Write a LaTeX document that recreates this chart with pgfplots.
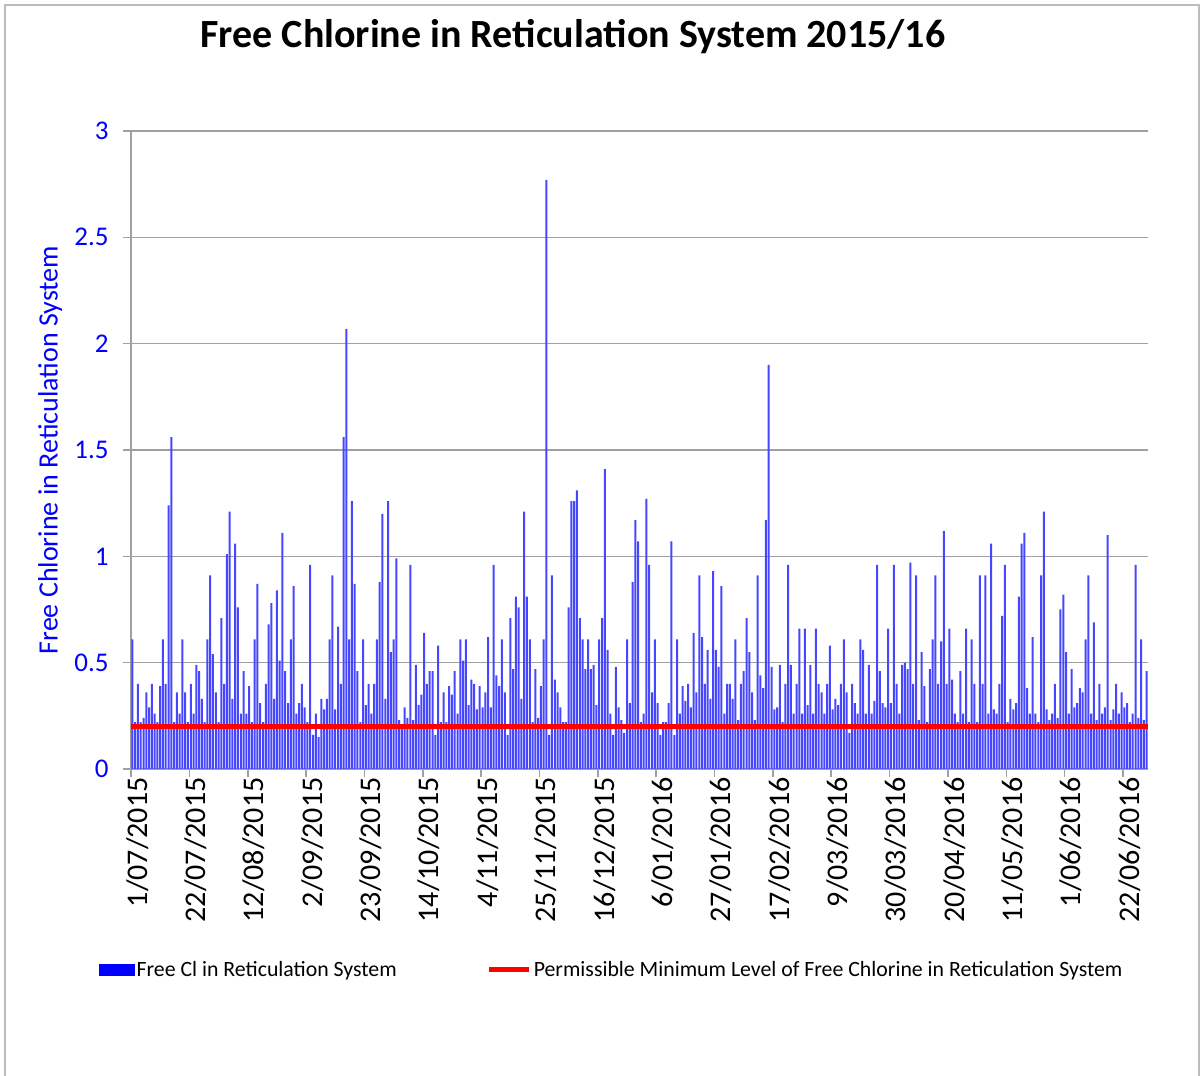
\documentclass[border=0pt]{standalone}
\usepackage{pgfplots}
\pgfplotsset{compat=1.18}
\usepackage{fontspec}
\setmainfont{Carlito}
\definecolor{barblue}{RGB}{70,70,255}
\definecolor{axgray}{RGB}{160,160,160}
\begin{document}
\begin{tikzpicture}
\useasboundingbox (0pt,0pt) rectangle (601.5pt,537.5pt);
\draw[axgray!70, line width=0.6pt] (2.5pt,-5pt) -- (2.5pt,535pt) -- (599.5pt,535pt) -- (599.5pt,-5pt);
\node[font=\fontsize{20}{24}\selectfont\bfseries] at (286.5pt,519pt) {Free Chlorine in Reticulation System 2015/16};
\begin{axis}[
  at={(65.5pt,153pt)}, anchor=south west,
  scale only axis, width=508.5pt, height=319pt,
  xmin=0, xmax=366, ymin=0, ymax=3,
  axis x line*=bottom, axis y line*=left,
  axis line style={axgray, line width=1pt},
  tick align=outside, major tick length=4pt,
  tick style={axgray, line width=0.8pt},
  ytick={0,0.5,1,1.5,2,2.5,3},
  yticklabels={0,0.5,1,1.5,2,2.5,3},
  ymajorgrids, grid style={axgray, line width=0.75pt},
  xtick={0,21,42,63,84,105,126,147,168,189,210,231,252,273,294,315,336,357},
  xticklabels={1/07/2015,22/07/2015,12/08/2015,2/09/2015,23/09/2015,14/10/2015,4/11/2015,25/11/2015,16/12/2015,6/01/2016,27/01/2016,17/02/2016,9/03/2016,30/03/2016,20/04/2016,11/05/2016,1/06/2016,22/06/2016},
  xticklabel style={rotate=90, anchor=east, font=\fontsize{15}{18}\selectfont, text=black, inner sep=0pt, yshift=-3.2pt},
  yticklabel style={font=\fontsize{13.5}{16}\selectfont, text=blue, inner sep=0pt, xshift=-7pt},
  ylabel={Free Chlorine in Reticulation System},
  ylabel style={at={(axis description cs:-0.0796,0.5)}, anchor=center, rotate=0, font=\fontsize{14}{17}\selectfont, text=blue},
  legend style={at={(0.4725,-0.315)}, anchor=center, draw=none, fill=none, legend columns=2,
    font=\fontsize{10.9}{13}\selectfont, /tikz/every even column/.append style={column sep=44pt},
    nodes={inner sep=1pt}},
]
\addplot[ybar, bar width=1.0pt, bar shift=0.7pt, fill=barblue, draw=none,
  legend image code/.code={\fill[blue] (-1pt,-3pt) rectangle (17pt,3pt);}]
coordinates {
(0,0.61) (1,0.22) (2,0.40) (3,0.22) (4,0.24) (5,0.36) (6,0.29) (7,0.40) (8,0.26) (9,0.22)
(10,0.39) (11,0.61) (12,0.40) (13,1.24) (14,1.56) (15,0.22) (16,0.36) (17,0.26) (18,0.61) (19,0.36)
(20,0.22) (21,0.40) (22,0.26) (23,0.49) (24,0.46) (25,0.33) (26,0.22) (27,0.61) (28,0.91) (29,0.54)
(30,0.36) (31,0.22) (32,0.71) (33,0.40) (34,1.01) (35,1.21) (36,0.33) (37,1.06) (38,0.76) (39,0.26)
(40,0.46) (41,0.26) (42,0.39) (43,0.22) (44,0.61) (45,0.87) (46,0.31) (47,0.22) (48,0.40) (49,0.68)
(50,0.78) (51,0.33) (52,0.84) (53,0.51) (54,1.11) (55,0.46) (56,0.31) (57,0.61) (58,0.86) (59,0.26)
(60,0.31) (61,0.40) (62,0.29) (63,0.22) (64,0.96) (65,0.16) (66,0.26) (67,0.15) (68,0.33) (69,0.28)
(70,0.33) (71,0.61) (72,0.91) (73,0.28) (74,0.67) (75,0.40) (76,1.56) (77,2.07) (78,0.61) (79,1.26)
(80,0.87) (81,0.46) (82,0.22) (83,0.61) (84,0.30) (85,0.40) (86,0.26) (87,0.40) (88,0.61) (89,0.88)
(90,1.20) (91,0.33) (92,1.26) (93,0.55) (94,0.61) (95,0.99) (96,0.23) (97,0.19) (98,0.29) (99,0.24)
(100,0.96) (101,0.23) (102,0.49) (103,0.30) (104,0.35) (105,0.64) (106,0.40) (107,0.46) (108,0.46) (109,0.16)
(110,0.58) (111,0.22) (112,0.36) (113,0.22) (114,0.39) (115,0.35) (116,0.46) (117,0.26) (118,0.61) (119,0.51)
(120,0.61) (121,0.30) (122,0.42) (123,0.40) (124,0.28) (125,0.39) (126,0.29) (127,0.36) (128,0.62) (129,0.29)
(130,0.96) (131,0.44) (132,0.39) (133,0.61) (134,0.36) (135,0.16) (136,0.71) (137,0.47) (138,0.81) (139,0.76)
(140,0.33) (141,1.21) (142,0.81) (143,0.61) (144,0.22) (145,0.47) (146,0.24) (147,0.39) (148,0.61) (149,2.77)
(150,0.16) (151,0.91) (152,0.42) (153,0.36) (154,0.29) (155,0.22) (156,0.22) (157,0.76) (158,1.26) (159,1.26)
(160,1.31) (161,0.71) (162,0.61) (163,0.47) (164,0.61) (165,0.47) (166,0.49) (167,0.30) (168,0.61) (169,0.71)
(170,1.41) (171,0.56) (172,0.26) (173,0.16) (174,0.48) (175,0.29) (176,0.23) (177,0.17) (178,0.61) (179,0.31)
(180,0.88) (181,1.17) (182,1.07) (183,0.22) (184,0.26) (185,1.27) (186,0.96) (187,0.36) (188,0.61) (189,0.31)
(190,0.16) (191,0.22) (192,0.22) (193,0.31) (194,1.07) (195,0.16) (196,0.61) (197,0.26) (198,0.39) (199,0.32)
(200,0.40) (201,0.29) (202,0.64) (203,0.36) (204,0.91) (205,0.62) (206,0.40) (207,0.56) (208,0.33) (209,0.93)
(210,0.56) (211,0.48) (212,0.86) (213,0.26) (214,0.40) (215,0.40) (216,0.33) (217,0.61) (218,0.23) (219,0.40)
(220,0.46) (221,0.71) (222,0.55) (223,0.36) (224,0.23) (225,0.91) (226,0.44) (227,0.38) (228,1.17) (229,1.90)
(230,0.48) (231,0.28) (232,0.29) (233,0.49) (234,0.22) (235,0.40) (236,0.96) (237,0.49) (238,0.26) (239,0.40)
(240,0.66) (241,0.26) (242,0.66) (243,0.30) (244,0.49) (245,0.26) (246,0.66) (247,0.40) (248,0.36) (249,0.26)
(250,0.40) (251,0.58) (252,0.28) (253,0.33) (254,0.30) (255,0.40) (256,0.61) (257,0.36) (258,0.17) (259,0.40)
(260,0.31) (261,0.26) (262,0.61) (263,0.56) (264,0.26) (265,0.49) (266,0.26) (267,0.32) (268,0.96) (269,0.46)
(270,0.31) (271,0.29) (272,0.66) (273,0.31) (274,0.96) (275,0.40) (276,0.26) (277,0.49) (278,0.50) (279,0.47)
(280,0.97) (281,0.40) (282,0.91) (283,0.23) (284,0.55) (285,0.39) (286,0.22) (287,0.47) (288,0.61) (289,0.91)
(290,0.40) (291,0.60) (292,1.12) (293,0.40) (294,0.66) (295,0.42) (296,0.26) (297,0.22) (298,0.46) (299,0.26)
(300,0.66) (301,0.22) (302,0.61) (303,0.40) (304,0.22) (305,0.91) (306,0.40) (307,0.91) (308,0.26) (309,1.06)
(310,0.28) (311,0.26) (312,0.40) (313,0.72) (314,0.96) (315,0.22) (316,0.33) (317,0.28) (318,0.31) (319,0.81)
(320,1.06) (321,1.11) (322,0.38) (323,0.26) (324,0.62) (325,0.26) (326,0.22) (327,0.91) (328,1.21) (329,0.28)
(330,0.23) (331,0.26) (332,0.40) (333,0.24) (334,0.75) (335,0.82) (336,0.55) (337,0.26) (338,0.47) (339,0.29)
(340,0.31) (341,0.38) (342,0.36) (343,0.61) (344,0.91) (345,0.26) (346,0.69) (347,0.23) (348,0.40) (349,0.26)
(350,0.29) (351,1.10) (352,0.23) (353,0.28) (354,0.40) (355,0.26) (356,0.36) (357,0.29) (358,0.31) (359,0.22)
(360,0.26) (361,0.96) (362,0.24) (363,0.61) (364,0.23) (365,0.46)
};
\addlegendentry{Free Cl in Reticulation System}
\addplot[red, line width=2.7pt, mark=none,
  legend image code/.code={\draw[red, line width=2.5pt] (0pt,0pt) -- (20pt,0pt);}]
coordinates {(0,0.2) (366,0.2)};
\addlegendentry{Permissible Minimum Level of Free Chlorine in Reticulation System}
\end{axis}
\end{tikzpicture}
\end{document}
